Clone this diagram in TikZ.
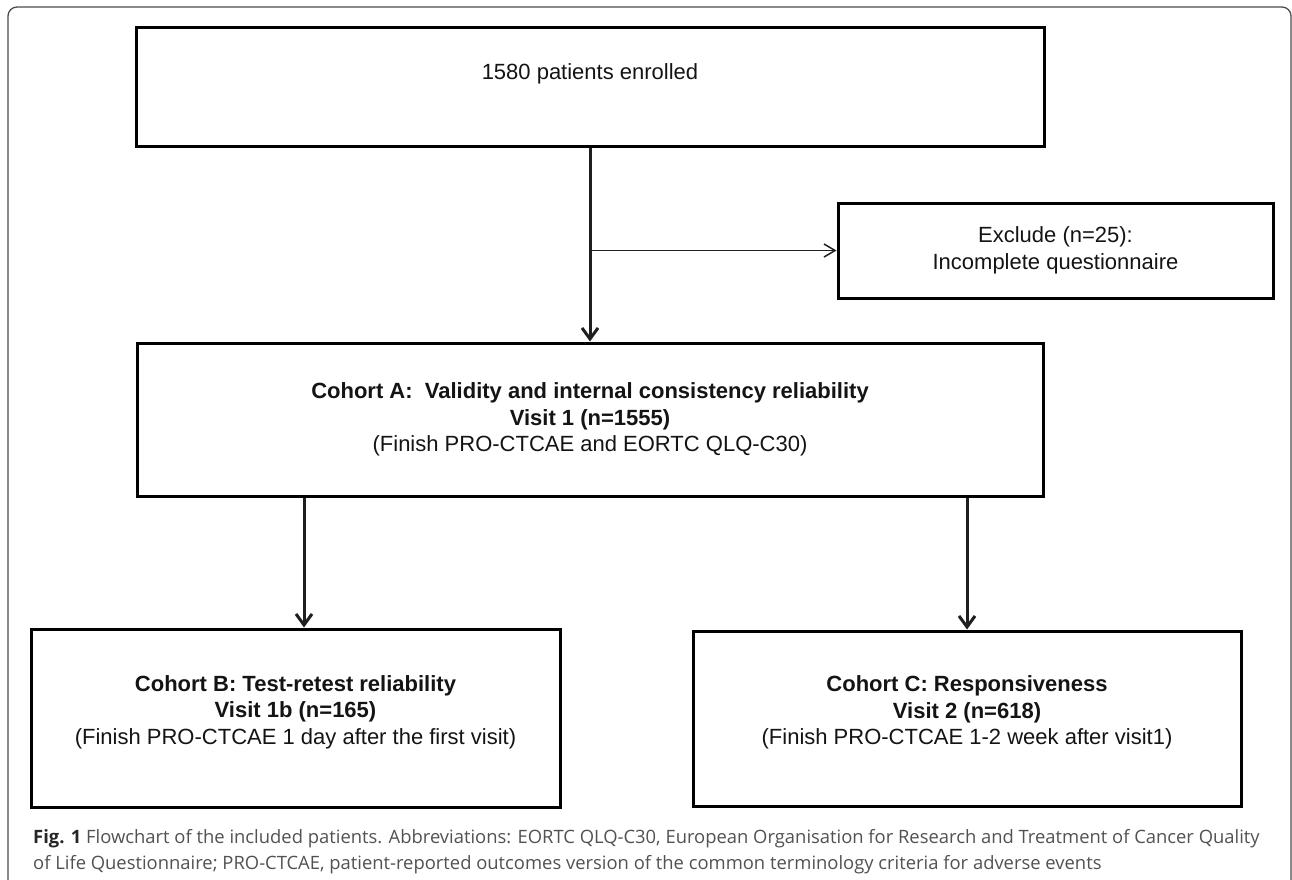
\documentclass[tikz,border=0pt]{standalone}
\usepackage{fontspec}
\setmainfont{Liberation Sans}
\newfontfamily\capfont{Open Sans}
\usetikzlibrary{arrows.meta}
\begin{document}
\begin{tikzpicture}[x=1pt,y=-1pt,
  box/.style={draw=black, line width=3pt, inner sep=0pt},
  btxt/.style={font=\fontsize{22}{26.5}\selectfont, align=center, inner sep=0pt, text=black!92},
  mainarrow/.style={line width=3pt, draw=black!88, -{Straight Barb[length=11pt,width=16pt]}},
  thinarrow/.style={line width=1.5pt, draw=black!88, -{Straight Barb[length=11pt,width=13pt]}},
  captext/.style={anchor=base west, inner sep=0pt, font=\capfont\fontsize{18.4}{26}\selectfont, text=black!68},
]
\useasboundingbox (0,0) rectangle (1292,879);
\fill[white] (0,0) rectangle (1292,879);
% outer frame
\draw[line width=1.3pt, draw=black!70, rounded corners=9pt] (8,900) -- (8,7) -- (1291,7) -- (1291,900);

% boxes
\node[box, minimum width=908pt, minimum height=119pt] (top) at (590,86.5) {};
\node[btxt] (toptxt) at (590,74) {1580 patients enrolled};

\node[box, minimum width=435pt, minimum height=95pt] (Ex) at (1055.5,250.5) {};
\node[btxt] (Extxt) at (Ex.center) {Exclude (n=25):\\Incomplete questionnaire};

\node[box, minimum width=906pt, minimum height=153pt] (A) at (590,419.5) {};
\node[btxt] (Atxt) at (A.center) {\textbf{Cohort A:\ \ Validity and internal consistency reliability}\\\textbf{Visit 1 (n=1555)}\\(Finish PRO-CTCAE and EORTC QLQ-C30)};

\node[box, minimum width=529pt, minimum height=178pt] (B) at (295.5,718) {};
\node[btxt] (Btxt) at ([yshift=6pt]B.center) {\textbf{Cohort B: Test-retest reliability}\\\textbf{Visit 1b (n=165)}\\(Finish PRO-CTCAE 1 day after the first visit)};

\node[box, minimum width=548pt, minimum height=175pt] (C) at (967,718.5) {};
\node[btxt] (Ctxt) at ([yshift=6pt]C.center) {\textbf{Cohort C: Responsiveness}\\\textbf{Visit 2 (n=618)}\\(Finish PRO-CTCAE 1-2 week after visit1)};

% connectors
\draw[mainarrow] (top.south) -- (A.north);
\coordinate (br) at (top.south |- Ex.west);
\draw[thinarrow] (br) -- (Ex.west);
\coordinate (bx) at (304,0);
\draw[mainarrow] (bx |- A.south) -- (bx |- B.north);
\draw[mainarrow] (C.north |- A.south) -- (C.north);

% caption
\node[captext] (cap1) at (33,843) {{\bfseries\color{black!85}Fig. 1} Flowchart of the included patients. Abbreviations: EORTC QLQ-C30, European Organisation for Research and Treatment of Cancer Quality};
\node[captext] (cap2) at (33,869) {of Life Questionnaire; PRO-CTCAE, patient-reported outcomes version of the common terminology criteria for adverse events};
\end{tikzpicture}
\end{document}
